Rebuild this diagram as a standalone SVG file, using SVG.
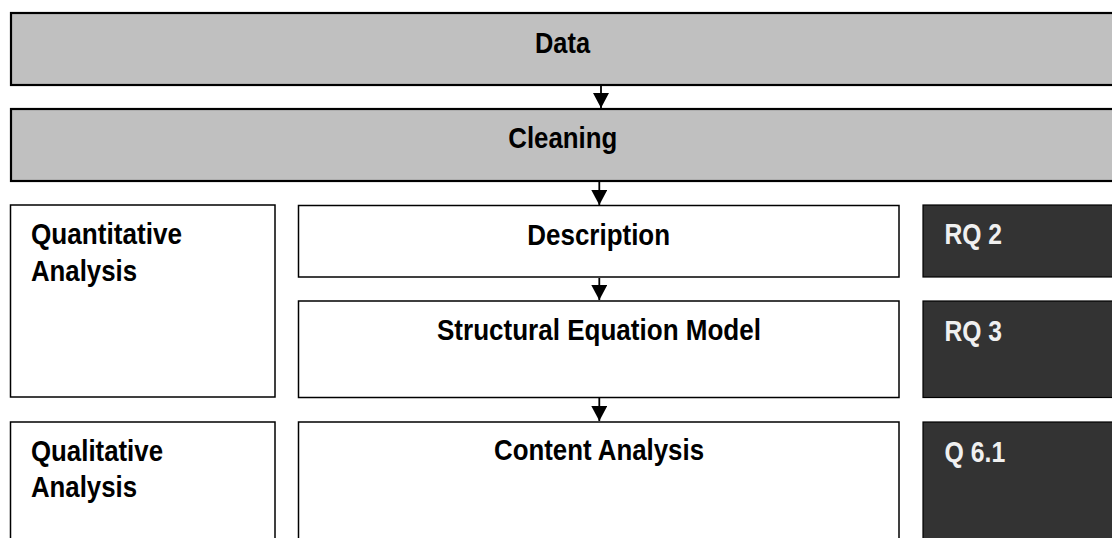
<svg xmlns="http://www.w3.org/2000/svg" width="1112" height="538" viewBox="0 0 1112 538">
  <style>
    text { font-family: "Liberation Sans", Arial, sans-serif; font-weight: bold; font-size: 30px; fill: #000; }
    .band { fill: #c0c0c0; stroke: #000; stroke-width: 2.2; }
    .box { fill: #fff; stroke: #000; stroke-width: 1.5; }
    .dark { fill: #333333; stroke: #000; stroke-width: 1.2; }
    .dark-label { fill: #f0f0f0; }
    .mid { text-anchor: middle; }
    .conn { stroke: #000; stroke-width: 1.8; fill: none; }
  </style>
  <defs>
    <marker id="arrow" markerUnits="userSpaceOnUse" markerWidth="16" markerHeight="16" viewBox="0 0 16 16" refX="15" refY="8" orient="auto">
      <path d="M0,0 L15,8 L0,16 Z" fill="#000"/>
    </marker>
  </defs>

  <rect width="1112" height="538" fill="#fff"/>

  <!-- pipeline stages -->
  <g id="data">
    <rect class="band" x="11" y="13" width="1130" height="72"/>
    <text class="mid" x="562.5" y="52.7" textLength="55" lengthAdjust="spacingAndGlyphs">Data</text>
  </g>
  <g id="cleaning">
    <rect class="band" x="11" y="109" width="1130" height="72"/>
    <text class="mid" x="562.8" y="148" textLength="109" lengthAdjust="spacingAndGlyphs">Cleaning</text>
  </g>

  <!-- analysis categories -->
  <g id="quantitative">
    <rect class="box" x="10.5" y="205" width="264.5" height="192"/>
    <text x="31" y="244.3" textLength="151" lengthAdjust="spacingAndGlyphs">Quantitative</text>
    <text x="31" y="280.7" textLength="106" lengthAdjust="spacingAndGlyphs">Analysis</text>
  </g>
  <g id="qualitative">
    <rect class="box" x="10.5" y="422" width="264.5" height="140"/>
    <text x="31" y="461" textLength="132" lengthAdjust="spacingAndGlyphs">Qualitative</text>
    <text x="31" y="496.7" textLength="106" lengthAdjust="spacingAndGlyphs">Analysis</text>
  </g>

  <!-- methods -->
  <g id="description">
    <rect class="box" x="298.5" y="205.5" width="600.5" height="71.5"/>
    <text class="mid" x="598.7" y="245" textLength="142.7" lengthAdjust="spacingAndGlyphs">Description</text>
  </g>
  <g id="sem">
    <rect class="box" x="298.5" y="301" width="600.5" height="96.5"/>
    <text class="mid" x="599" y="339.5" textLength="324" lengthAdjust="spacingAndGlyphs">Structural Equation Model</text>
  </g>
  <g id="content-analysis">
    <rect class="box" x="298.5" y="422" width="600.5" height="140"/>
    <text class="mid" x="599" y="460" textLength="210" lengthAdjust="spacingAndGlyphs">Content Analysis</text>
  </g>

  <!-- research questions -->
  <g id="rq2">
    <rect class="dark" x="923" y="205" width="220" height="72"/>
    <text class="dark-label" x="944.5" y="244" textLength="57.6" lengthAdjust="spacingAndGlyphs">RQ 2</text>
  </g>
  <g id="rq3">
    <rect class="dark" x="923" y="301" width="220" height="96.5"/>
    <text class="dark-label" x="944.5" y="341" textLength="57.6" lengthAdjust="spacingAndGlyphs">RQ 3</text>
  </g>
  <g id="q61">
    <rect class="dark" x="923" y="422" width="220" height="140"/>
    <text class="dark-label" x="944.5" y="461.7" textLength="60.7" lengthAdjust="spacingAndGlyphs">Q 6.1</text>
  </g>

  <!-- connectors -->
  <g id="connectors">
    <line class="conn" x1="601" y1="86" x2="601" y2="108" marker-end="url(#arrow)"/>
    <line class="conn" x1="599.3" y1="182" x2="599.3" y2="205" marker-end="url(#arrow)"/>
    <line class="conn" x1="599.3" y1="278" x2="599.3" y2="300" marker-end="url(#arrow)"/>
    <line class="conn" x1="599.3" y1="398" x2="599.3" y2="421" marker-end="url(#arrow)"/>
  </g>
</svg>
